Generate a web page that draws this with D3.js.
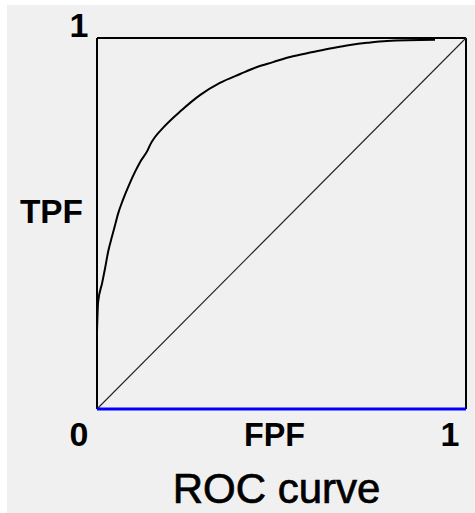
<!DOCTYPE html>
<html><head><meta charset="utf-8">
<script src="https://cdn.jsdelivr.net/npm/d3@7/dist/d3.min.js"></script>
<style>html,body{margin:0;padding:0;background:#fff;}svg{display:block;}</style>
</head><body>
<script>
// ROC curve points (false positive fraction, true positive fraction)
const fpf = [0, 0.003, 0.014, 0.022, 0.030, 0.041, 0.049, 0.057, 0.070, 0.089, 0.103, 0.117, 0.136, 0.144, 0.184, 0.230, 0.279, 0.333, 0.388, 0.434, 0.477, 0.523, 0.585, 0.640, 0.686, 0.732, 0.786, 0.916];
const tpf = [0.208, 0.288, 0.340, 0.380, 0.423, 0.466, 0.496, 0.526, 0.563, 0.609, 0.639, 0.666, 0.695, 0.712, 0.763, 0.806, 0.846, 0.879, 0.903, 0.922, 0.935, 0.949, 0.962, 0.973, 0.981, 0.987, 0.992, 0.995];
// chance diagonal
const diagX = [0, 1];
const diagY = [0, 1];
const xTickValues = [0, 1];
const xTickLabels = ["0", "1"];
const yTickValues = [1];
const yTickLabels = ["1"];
const xTitle = "FPF";
const yTitle = "TPF";
const chartTitle = "ROC curve";

const W = 475, H = 513;
const svg = d3.select("body").append("svg").attr("width", W).attr("height", H);
svg.append("rect").attr("x", 7).attr("y", 5).attr("width", W - 7).attr("height", H - 5).attr("fill", "#f0f0f0");

const x = d3.scaleLinear().domain([0, 1]).range([97, 466]);
const y = d3.scaleLinear().domain([0, 1]).range([409, 38]);

// frame: left, top, right
const frame = svg.append("g").attr("stroke", "#000").attr("stroke-width", 2).attr("fill", "none");
frame.append("line").attr("x1", x(0)).attr("x2", x(0)).attr("y1", y(0)).attr("y2", y(1));
frame.append("line").attr("x1", x(0)).attr("x2", x(1)).attr("y1", y(1)).attr("y2", y(1));
frame.append("line").attr("x1", x(1)).attr("x2", x(1)).attr("y1", y(0)).attr("y2", y(1));

// diagonal
svg.append("path")
  .datum(diagX.map((d, i) => [d, diagY[i]]))
  .attr("d", d3.line().x(d => x(d[0])).y(d => y(d[1])))
  .attr("stroke", "#222").attr("stroke-width", 1.1).attr("fill", "none");

// ROC curve
svg.append("path")
  .datum(fpf.map((d, i) => [d, tpf[i]]))
  .attr("d", d3.line().x(d => x(d[0])).y(d => y(d[1])).curve(d3.curveMonotoneX))
  .attr("stroke", "#000").attr("stroke-width", 2).attr("fill", "none")
  .attr("stroke-linejoin", "round");

// blue baseline (x axis)
svg.append("line").attr("x1", x(0)).attr("x2", x(1)).attr("y1", y(0)).attr("y2", y(0))
  .attr("stroke", "#0000ff").attr("stroke-width", 3);

const boldFont = "'Liberation Sans', Arial, sans-serif";

// x tick labels
svg.selectAll("text.xt").data(xTickValues).enter().append("text")
  .attr("class", "xt")
  .attr("x", (d, i) => i === 0 ? x(d) - 18 : x(d) - 16)
  .attr("y", y(0) + 37)
  .attr("text-anchor", "middle")
  .attr("font-family", boldFont).attr("font-weight", "bold").attr("font-size", 34)
  .text((d, i) => xTickLabels[i]);

// y tick labels
svg.selectAll("text.yt").data(yTickValues).enter().append("text")
  .attr("class", "yt")
  .attr("x", x(0) - 18)
  .attr("y", d => y(d) - 1)
  .attr("text-anchor", "middle")
  .attr("font-family", boldFont).attr("font-weight", "bold").attr("font-size", 34)
  .text((d, i) => yTickLabels[i]);

// axis titles
svg.append("text").attr("x", 20).attr("y", 223)
  .attr("font-family", boldFont).attr("font-weight", "bold").attr("font-size", 34)
  .attr("textLength", 63).attr("lengthAdjust", "spacingAndGlyphs")
  .text(yTitle);
svg.append("text").attr("x", 244).attr("y", 446)
  .attr("font-family", boldFont).attr("font-weight", "bold").attr("font-size", 34)
  .attr("textLength", 61).attr("lengthAdjust", "spacingAndGlyphs")
  .text(xTitle);

// chart title
svg.append("text").attr("x", 276.5).attr("y", 503)
  .attr("text-anchor", "middle")
  .attr("font-family", boldFont).attr("font-size", 42)
  .attr("stroke", "#000").attr("stroke-width", 0.7)
  .text(chartTitle);
</script>
</body></html>
